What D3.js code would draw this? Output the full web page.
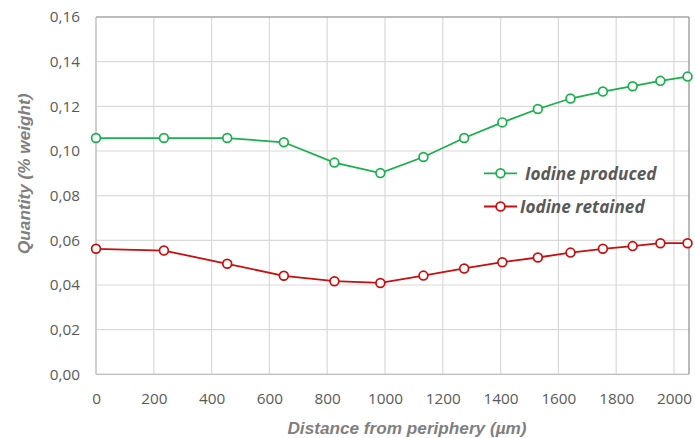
<!DOCTYPE html>
<html><head><meta charset="utf-8">
<script src="https://cdn.jsdelivr.net/npm/d3@7"></script>
<style>body{margin:0;background:#fff}</style>
</head><body>
<svg id="c" width="695" height="438"></svg>
<script>
const distances = [0, 235, 454, 650, 825, 984, 1133, 1274, 1406, 1529, 1642, 1754, 1857, 1953, 2047];
const iodineProduced = [0.1058, 0.1058, 0.1058, 0.1039, 0.0948, 0.0901, 0.0973, 0.1058, 0.1128, 0.1188, 0.1235, 0.1266, 0.1290, 0.1314, 0.1333];
const iodineRetained = [0.0562, 0.0554, 0.0495, 0.0441, 0.0417, 0.0409, 0.0442, 0.0474, 0.0502, 0.0523, 0.0545, 0.0562, 0.0574, 0.0587, 0.0587];
const xTicks = [0, 200, 400, 600, 800, 1000, 1200, 1400, 1600, 1800, 2000];
const yTicks = [0, 0.02, 0.04, 0.06, 0.08, 0.10, 0.12, 0.14, 0.16];
const seriesNames = ["Iodine produced", "Iodine retained"];
const seriesColors = ["#1AB04D", "#C80F0F"];
const xTitle = "Distance from periphery (µm)";
const yTitle = "Quantity (% weight)";

const svg = d3.select("#c");
const L = 96, R = 689, T = 17, B = 374.3;
const x = d3.scaleLinear().domain([0, 2052]).range([L, R]);
const y = d3.scaleLinear().domain([0, 0.16]).range([B, T]);
const fmt = d => d3.format(".2f")(d).replace(".", ",");

// gridlines
svg.append("g").selectAll("line").data(xTicks).join("line")
  .attr("x1", d => x(d)).attr("x2", d => x(d)).attr("y1", T).attr("y2", B)
  .attr("stroke", "#D9D9D9").attr("stroke-width", 1.2);
svg.append("g").selectAll("line").data(yTicks).join("line")
  .attr("x1", L).attr("x2", R).attr("y1", d => y(d)).attr("y2", d => y(d))
  .attr("stroke", "#D9D9D9").attr("stroke-width", 1.2);

// frame
svg.append("line").attr("x1", L).attr("x2", R).attr("y1", T).attr("y2", T).attr("stroke", "#8C8C8C").attr("stroke-width", 1.2);
svg.append("line").attr("x1", R).attr("x2", R).attr("y1", T).attr("y2", B).attr("stroke", "#8C8C8C").attr("stroke-width", 1.2);
svg.append("line").attr("x1", L).attr("x2", L).attr("y1", T).attr("y2", B).attr("stroke", "#BFBFBF").attr("stroke-width", 1.2);
svg.append("line").attr("x1", L).attr("x2", R).attr("y1", B).attr("y2", B).attr("stroke", "#BFBFBF").attr("stroke-width", 1.2);

// axes (labels only)
const xAxis = svg.append("g").attr("transform", `translate(0,${B})`)
  .call(d3.axisBottom(x).tickValues(xTicks).tickSize(0).tickPadding(19).tickFormat(d3.format("d")));
const yAxis = svg.append("g").attr("transform", `translate(${L},0)`)
  .call(d3.axisLeft(y).tickValues(yTicks).tickSize(0).tickPadding(16).tickFormat(fmt));
[xAxis, yAxis].forEach(a => {
  a.select(".domain").remove();
  a.selectAll("text").attr("fill", "#595959").attr("font-family", "'Open Sans', sans-serif").attr("font-size", 15.3);
});

// titles
svg.append("text").attr("x", 407).attr("y", 434).attr("text-anchor", "middle")
  .attr("font-family", "'Liberation Sans', Arial, sans-serif").attr("font-weight", "bold").attr("font-style", "italic")
  .attr("font-size", 17.2).attr("fill", "#7F7F7F").text(xTitle);
svg.append("text").attr("transform", "translate(30,254) rotate(-90)").attr("text-anchor", "start")
  .attr("font-family", "'Liberation Sans', Arial, sans-serif").attr("font-weight", "bold").attr("font-style", "italic")
  .attr("font-size", 17.2).attr("fill", "#7F7F7F").text(yTitle);

// series
const series = [iodineProduced, iodineRetained];
const line = d3.line().x((d, i) => x(distances[i])).y(d => y(d));
series.forEach((vals, si) => {
  svg.append("path").datum(vals).attr("d", line).attr("fill", "none")
    .attr("stroke", seriesColors[si]).attr("stroke-width", 1.8);
  svg.append("g").selectAll("circle").data(vals).join("circle")
    .attr("cx", (d, i) => x(distances[i])).attr("cy", d => y(d)).attr("r", 4.4)
    .attr("fill", "#fff").attr("stroke", seriesColors[si]).attr("stroke-width", 1.7);
});

// legend
const legY = [173.3, 206.5];
const legTextX = [525, 520];
seriesNames.forEach((n, i) => {
  const g = svg.append("g");
  g.append("line").attr("x1", 484).attr("x2", 517).attr("y1", legY[i]).attr("y2", legY[i])
    .attr("stroke", seriesColors[i]).attr("stroke-width", 1.8);
  g.append("circle").attr("cx", 500.5).attr("cy", legY[i]).attr("r", 4.4)
    .attr("fill", "#fff").attr("stroke", seriesColors[i]).attr("stroke-width", 1.7);
  g.append("text").attr("x", legTextX[i]).attr("y", legY[i] + 6.8)
    .attr("font-family", "'Open Sans', sans-serif").attr("font-weight", "bold").attr("font-style", "italic")
    .attr("font-size", 17.2).attr("fill", "#595959").text(n);
});
</script>
</body></html>
